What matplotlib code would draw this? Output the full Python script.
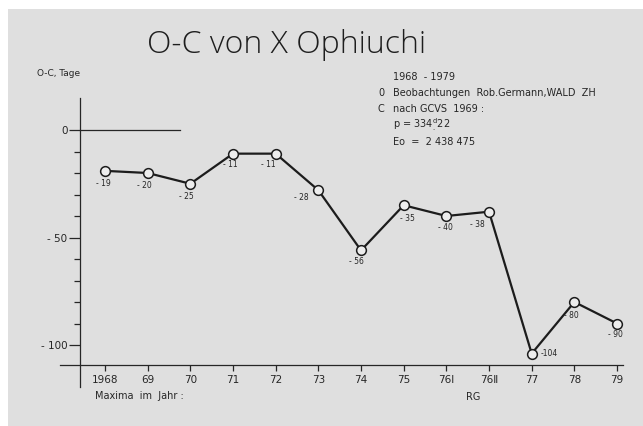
import matplotlib
matplotlib.use("Agg")
import matplotlib.pyplot as plt
from matplotlib.patches import Rectangle

plt.rcParams['font.family'] = ['DejaVu Sans']
plt.rcParams['mathtext.default'] = 'regular'

# data
years = ['1968', '69', '70', '71', '72', '73', '74', '75', '76\u2160', '76\u2161', '77', '78', '79']
oc_days = [-19, -20, -25, -11, -11, -28, -56, -35, -40, -38, -104, -80, -90]
point_labels = ['- 19', '- 20', '- 25', '- 11', '- 11', '- 28', '- 56', '- 35', '- 40', '- 38', '-104', '- 80', '- 90']
# label offsets in pixels (dx, dy)
label_offsets = [(-2, -13), (-3, -13), (-4, -13), (-3, -11), (-7, -11), (-17, -7), (-5, -11),
                 (4, -13), (-1, -12), (-12, -13), (18, 0), (-3, -13), (-2, -11)]

W, H = 643, 426
fig = plt.figure(figsize=(W / 100, H / 100), dpi=100)
fig.patch.set_facecolor('white')

ax = fig.add_axes([0, 0, 1, 1])
ax.set_facecolor('none')
ax.add_patch(Rectangle((8 / W, 0), 1, 1 - 9 / H, transform=ax.transAxes,
                       facecolor='#dfdfdf', edgecolor='none', zorder=-10))

# pixel layout: category i at 105 + 42.67*i px, value v at 130 - 2.15*v px from top
step, yscale = 42.67, 2.15
ax.set_xlim(-105 / step, (W - 105) / step)
ax.set_ylim((130 - H) / yscale, 130 / yscale)

def px_x(p):
    return (p - 105) / step

def px_y(p):
    return (130 - p) / yscale

ink = '#262626'
for s in ['top', 'right']:
    ax.spines[s].set_visible(False)
ax.spines['left'].set_position(('data', px_x(80)))
ax.spines['left'].set_bounds(px_y(387), px_y(98))
ax.spines['bottom'].set_position(('data', px_y(365)))
ax.spines['bottom'].set_bounds(px_x(60), px_x(623))
for s in ['left', 'bottom']:
    ax.spines[s].set_color(ink)
    ax.spines[s].set_linewidth(0.9)

ax.set_xticks(range(len(years)))
ax.set_xticklabels(years)
ax.set_yticks([0, -50, -100])
ax.set_yticklabels(['0', '- 50', '- 100'])
ax.set_yticks([-10, -20, -30, -40, -60, -70, -80, -90], minor=True)
ax.tick_params(axis='x', direction='out', length=4.5, width=0.9, color=ink,
               labelsize=7.5, labelcolor=ink, pad=3)
ax.tick_params(axis='y', which='major', direction='out', length=8, width=0.9, color=ink,
               labelsize=7.5, labelcolor=ink, pad=1)
ax.tick_params(axis='y', which='minor', direction='out', length=4.5, width=0.9, color=ink)

# zero line
ax.plot([px_x(80), px_x(180)], [0, 0], color=ink, lw=0.9)

x = list(range(len(years)))
ax.plot(x, oc_days, color='#1c1c1c', lw=1.6, marker='o', markersize=7,
        markerfacecolor='#ededed', markeredgecolor='#1c1c1c', markeredgewidth=1.1, zorder=3)

for xi, v, lab, (dx, dy) in zip(x, oc_days, point_labels, label_offsets):
    ax.annotate(lab, (xi, v), xytext=(dx, dy), textcoords='offset pixels',
                ha='center', va='center', fontsize=5.5, color=ink)

# texts
ax.text(px_x(287), px_y(45), 'O-C von X Ophiuchi', fontsize=23, fontweight='light',
        family=['Open Sans', 'DejaVu Sans'], ha='center', va='center', color='#1e1e1e')
ax.text(px_x(37), px_y(74), 'O-C, Tage', fontsize=6.5, ha='left', va='center', color=ink)
ax.text(px_x(393), px_y(77), '1968  - 1979', fontsize=7, ha='left', va='center', color=ink)
ax.text(px_x(378), px_y(93), '0', fontsize=7, ha='left', va='center', color=ink)
ax.text(px_x(393), px_y(93), 'Beobachtungen  Rob.Germann,WALD  ZH', fontsize=7,
        ha='left', va='center', color=ink)
ax.text(px_x(378), px_y(109), 'C', fontsize=7, ha='left', va='center', color=ink)
ax.text(px_x(393), px_y(109), 'nach GCVS  1969 :', fontsize=7, ha='left', va='center', color=ink)
ax.text(px_x(393), px_y(125), 'p = 334$_{.}^{d}$22', fontsize=7, ha='left', va='center', color=ink)
ax.text(px_x(393), px_y(142), 'Eo  =  2 438 475', fontsize=7, ha='left', va='center', color=ink)
ax.text(px_x(95), px_y(396), 'Maxima  im  Jahr :', fontsize=7, ha='left', va='center', color=ink)
ax.text(px_x(473), px_y(397), 'RG', fontsize=7, ha='center', va='center', color=ink)

fig.savefig('out.png', dpi=100)
